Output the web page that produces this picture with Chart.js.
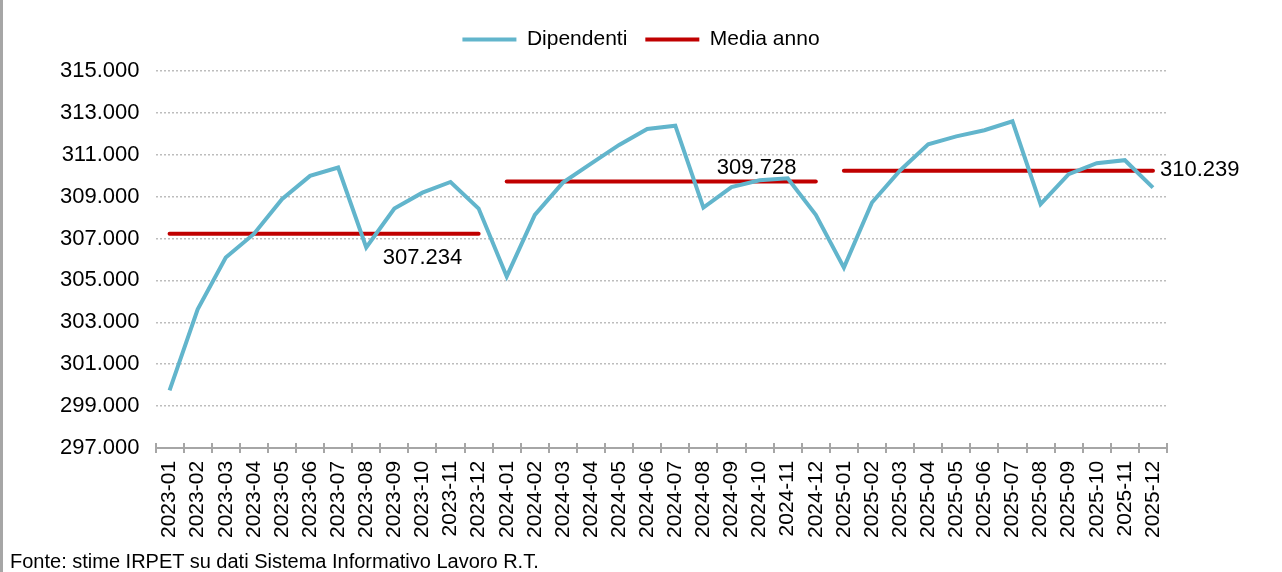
<!DOCTYPE html>
<html>
<head>
<meta charset="utf-8">
<script src="https://cdn.jsdelivr.net/npm/chart.js@4.4.1/dist/chart.umd.min.js"></script>
<style>
  html, body { margin: 0; padding: 0; background: #fff; }
  #wrap { position: relative; width: 1282px; height: 572px; overflow: hidden; }
  #edge { position: absolute; left: 0; top: 0; width: 3px; height: 572px; background: #a6a6a6; }
  #myChart { position: absolute; left: 0; top: 0; }
  #fonte { position: absolute; left: 10px; top: 550px; font: 20px "Liberation Sans", Arial, sans-serif; color: #000; white-space: nowrap; }
</style>
</head>
<body>
<div id="wrap">
  <canvas id="myChart" width="1282" height="572"></canvas>
  <div id="edge"></div>
  <div id="fonte">Fonte: stime IRPET su dati Sistema Informativo Lavoro R.T.</div>
</div>
<script>
'use strict';

// data
let months = [
  '2023-01', '2023-02', '2023-03', '2023-04', '2023-05', '2023-06',
  '2023-07', '2023-08', '2023-09', '2023-10', '2023-11', '2023-12',
  '2024-01', '2024-02', '2024-03', '2024-04', '2024-05', '2024-06',
  '2024-07', '2024-08', '2024-09', '2024-10', '2024-11', '2024-12',
  '2025-01', '2025-02', '2025-03', '2025-04', '2025-05', '2025-06',
  '2025-07', '2025-08', '2025-09', '2025-10', '2025-11', '2025-12'
];
let dipendenti = [
  299750, 303620, 306090, 307220, 308880, 309990, 310390, 306570, 308430, 309190, 309700, 308430,
  305190, 308130, 309670, 310580, 311470, 312230, 312390, 308480, 309460, 309780, 309880, 308130,
  305610, 308720, 310250, 311500, 311880, 312170, 312600, 308640, 310070, 310600, 310740, 309430
];
let years = ['2023', '2024', '2025'];
let mediaAnno = [307234, 309728, 310239];

// y axis range
let yMin = 297000;
let yMax = 315000;
let yStep = 2000;

let blue = '#62B5CC';
let red = '#C00000';
let font = '"Liberation Sans", Arial, sans-serif';

// one value per month, taken from the average of its year
let mediaLine = months.map(function (m) {
  return mediaAnno[years.indexOf(m.slice(0, 4))];
});

function formatIt(v) {
  return String(v).replace(/\B(?=(\d{3})+(?!\d))/g, '.');
}

// where the average labels sit, relative to the line
let labelSpots = [
  { index: 9, dx: 0, dy: 24, align: 'center' },
  { index: 21, dx: -3, dy: -13, align: 'center' },
  { index: 35, dx: 7, dy: -1, align: 'left' }
];

// leave some room under the legend, and center it on the page
let legendGap = {
  id: 'legendGap',
  beforeInit(chart) {
    let fit = chart.legend.fit;
    chart.legend.fit = function () {
      fit.call(this);
      this.height += 11;
    };
  },
  afterLayout(chart) {
    let l = chart.legend;
    let shift = chart.width / 2 - (l.left + l.right) / 2;
    l.left += shift;
    l.right += shift;
  }
};

let extras = {
  id: 'extras',
  afterDatasetsDraw(chart) {
    let ctx = chart.ctx;
    let x = chart.scales.x;
    let y = chart.scales.y;
    ctx.save();
    ctx.font = '22px ' + font;
    ctx.fillStyle = '#000';
    ctx.textBaseline = 'middle';
    for (let i = 0; i < mediaAnno.length; i++) {
      let s = labelSpots[i];
      ctx.textAlign = s.align;
      ctx.fillText(formatIt(mediaAnno[i]), x.getPixelForValue(s.index) + s.dx, y.getPixelForValue(mediaAnno[i]) + s.dy);
    }
    // tick marks crossing above the axis line
    ctx.strokeStyle = '#a6a6a6';
    ctx.lineWidth = 2;
    let n = months.length;
    let w = (x.right - x.left) / n;
    for (let i = 0; i <= n; i++) {
      let px = Math.round(x.left + i * w);
      ctx.beginPath();
      ctx.moveTo(px, y.bottom - 5);
      ctx.lineTo(px, y.bottom);
      ctx.stroke();
    }
    ctx.restore();
  }
};

let ctx = document.getElementById('myChart').getContext('2d');
let myChart = new Chart(ctx, {
  type: 'line',
  data: {
    labels: months,
    datasets: [{
      label: 'Dipendenti',
      data: dipendenti,
      borderColor: blue,
      backgroundColor: blue,
      borderWidth: 4,
      pointRadius: 0,
      tension: 0
    }, {
      label: 'Media anno',
      data: mediaLine,
      borderColor: red,
      backgroundColor: red,
      borderWidth: 4,
      borderCapStyle: 'round',
      pointRadius: 0,
      tension: 0,
      segment: {
        borderColor: function (c) {
          return c.p0.parsed.y !== c.p1.parsed.y ? 'rgba(0,0,0,0)' : red;
        }
      }
    }]
  },
  options: {
    responsive: false,
    animation: false,
    devicePixelRatio: 1,
    layout: {
      padding: { left: 44, right: 115, top: 11, bottom: 26 }
    },
    plugins: {
      legend: {
        position: 'top',
        align: 'center',
        labels: {
          color: '#000',
          font: { family: font, size: 21 },
          boxWidth: 54,
          boxHeight: 4,
          padding: 18,
          generateLabels: function (chart) {
            return Chart.defaults.plugins.legend.labels.generateLabels(chart).map(function (l) {
              l.fillStyle = l.strokeStyle;
              l.lineWidth = 0;
              return l;
            });
          }
        }
      },
      tooltip: { enabled: false }
    },
    scales: {
      x: {
        offset: true,
        grid: {
          offset: true,
          drawOnChartArea: false,
          drawTicks: true,
          tickLength: 5,
          color: '#a6a6a6',
          lineWidth: 2
        },
        border: { display: true, color: '#a6a6a6', width: 2 },
        ticks: {
          color: '#000',
          font: { family: font, size: 21 },
          minRotation: 90,
          maxRotation: 90,
          autoSkip: false,
          padding: 8
        }
      },
      y: {
        min: yMin,
        max: yMax,
        border: { display: false },
        grid: {
          drawTicks: false,
          color: function (c) {
            return c.tick && c.tick.value === yMin ? 'rgba(0,0,0,0)' : '#bdbdbd';
          },
          lineWidth: 1.5
        },
        ticks: {
          stepSize: yStep,
          color: '#000',
          font: { family: font, size: 22 },
          padding: 16,
          callback: function (v) { return formatIt(v); }
        }
      }
    }
  },
  plugins: [legendGap, extras]
});

myChart.options.scales.y.grid.borderDash = [2, 2];
myChart.options.scales.y.border.dash = [2, 2];
myChart.update();
</script>
</body>
</html>
